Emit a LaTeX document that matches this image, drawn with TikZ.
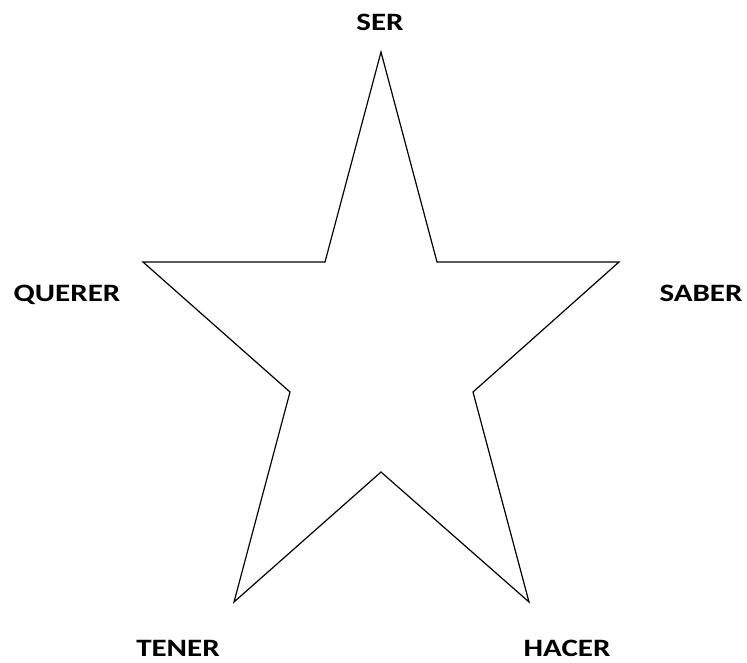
\documentclass[tikz,border=0pt]{standalone}
\usepackage{fontspec}
\setmainfont{Carlito}
\newfontfamily\lblfont{Carlito}[FakeStretch=1.24]
\usetikzlibrary{positioning}

\begin{document}
\begin{tikzpicture}[
  x=1pt, y=-1pt,
  pointlbl/.style={anchor=base, inner sep=0pt, font=\lblfont\fontsize{25}{30}\selectfont\bfseries},
  starline/.style={draw=black, line width=1.2pt, line join=miter},
]
\useasboundingbox (0,0) rectangle (747,662);

% ---- star outline ----
\coordinate (top) at (381,52);
\coordinate (ul) at (325,262);
\coordinate (left) at (143,262);
\coordinate (ll) at (290,392);
\coordinate (bl) at (234,602);
\coordinate (bot) at (381,472);
\coordinate (br) at (529,602);
\coordinate (lr) at (473,392);
\coordinate (right) at (619,262);
\coordinate (ur) at (437,262);
\draw[starline] (top) -- (ul) -- (left) -- (ll) -- (bl) -- (bot) -- (br) -- (lr) -- (right) -- (ur) -- cycle;

% ---- labels ----
\node[pointlbl] (ser) at (380,30) {SER};
\node[pointlbl] (querer) at (67,301) {QUERER};
\node[pointlbl] (saber) at (701,301) {SABER};
\node[pointlbl] (tener) at (178,656) {TENER};
\node[pointlbl] (hacer) at (567,656) {HACER};

\end{tikzpicture}
\end{document}
